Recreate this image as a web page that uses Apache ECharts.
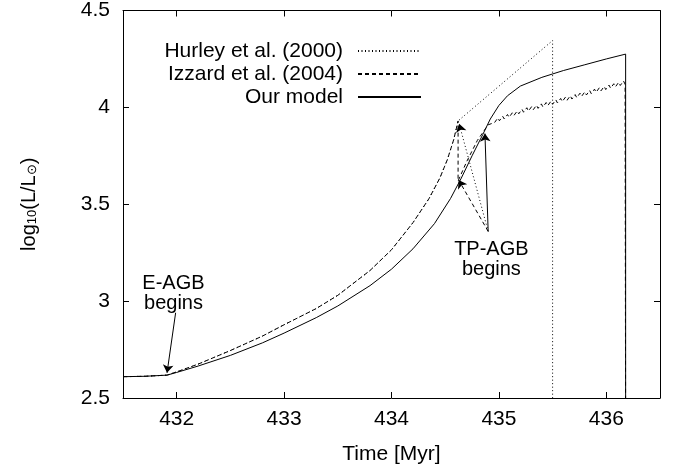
<!DOCTYPE html>
<html>
<head>
<meta charset="utf-8">
<script src="https://cdn.jsdelivr.net/npm/echarts@6/dist/echarts.min.js"></script>
<style>
  html, body { margin: 0; padding: 0; background: #fff; }
  #chart { width: 676px; height: 474px; }
</style>
</head>
<body>
<div id="chart"></div>
<script>
var chart = echarts.init(document.getElementById('chart'));
var font = 'Liberation Sans, Arial, Helvetica, sans-serif';

// 曲线数据 (time Myr, log L)
// 早期 E-AGB 段: Hurley 和 Izzard 重合
var commonCurve = [[431.5, 2.61], [431.7, 2.612], [431.91, 2.618], [432.0, 2.635], [432.2, 2.675],
  [432.5, 2.745], [432.8, 2.82], [433.0, 2.878], [433.3, 2.962], [433.5, 3.03], [433.8, 3.158],
  [434.0, 3.265], [434.2, 3.405], [434.35, 3.53], [434.45, 3.635], [434.52, 3.73], [434.58, 3.835],
  [434.62, 3.93]];
var hurleyTail = [[435.5, 4.345], [435.5, 2.3]];
var izzardTail = [[434.62, 3.62], [434.7, 3.72], [434.8, 3.83], [434.9, 3.91],
  [434.960, 3.922], [434.990, 3.945], [435.005, 3.931], [435.035, 3.954], [435.050, 3.940], [435.080, 3.963],
  [435.095, 3.949], [435.125, 3.972], [435.140, 3.958], [435.170, 3.981], [435.185, 3.967], [435.215, 3.990],
  [435.230, 3.975], [435.260, 3.998], [435.275, 3.981], [435.305, 4.004], [435.320, 3.988], [435.350, 4.011],
  [435.365, 3.995], [435.395, 4.018], [435.410, 4.002], [435.440, 4.025], [435.455, 4.009], [435.485, 4.032],
  [435.500, 4.016], [435.530, 4.039], [435.545, 4.023], [435.575, 4.046], [435.590, 4.030], [435.620, 4.053],
  [435.635, 4.037], [435.665, 4.060], [435.680, 4.043], [435.710, 4.066], [435.725, 4.050], [435.755, 4.073],
  [435.770, 4.057], [435.800, 4.080], [435.815, 4.064], [435.845, 4.087], [435.860, 4.071], [435.890, 4.094],
  [435.905, 4.078], [435.935, 4.101], [435.950, 4.085], [435.980, 4.108], [435.995, 4.092], [436.025, 4.115],
  [436.040, 4.099], [436.070, 4.122], [436.085, 4.106], [436.115, 4.129], [436.130, 4.113], [436.160, 4.136],
  [436.175, 4.120], [436.18, 2.3]];
var ourModel = [[431.5, 2.61], [431.7, 2.612], [431.91, 2.618], [432.0, 2.632], [432.2, 2.665],
  [432.5, 2.72], [432.8, 2.785], [433.0, 2.835], [433.3, 2.915], [433.5, 2.975], [433.8, 3.08],
  [434.0, 3.165], [434.2, 3.27], [434.4, 3.4], [434.55, 3.53], [434.65, 3.635], [434.75, 3.75],
  [434.85, 3.86], [434.92, 3.94], [435.0, 4.01], [435.08, 4.06], [435.2, 4.11], [435.4, 4.155],
  [435.6, 4.19], [435.8, 4.22], [436.0, 4.25], [436.18, 4.275], [436.18, 2.3]];

// 箭头 [起点, 终点]
var arrowSolid = [[[431.99, 2.94], [431.91, 2.63]], [[434.90, 3.36], [434.87, 3.865]]];
var arrowDashed = [[[434.90, 3.36], [434.625, 3.625]]];
var arrowDotted = [[[434.90, 3.36], [434.63, 3.915]]];

// 注释文字
var noteText = ['E-AGB\nbegins', 'TP-AGB\nbegins'];
var notePos = [[431.97, 3.04], [434.93, 3.215]];

var xTicks = [432, 433, 434, 435, 436];
var yTicks = [2.5, 3, 3.5, 4, 4.5];

function arrowItems(list, type) {
	return list.map(function(c) {
		return { coords: c, lineStyle: { type: type } };
	});
}

var axisBase = {
	type : 'value',
	axisLine : { show : true, lineStyle : { color : '#000', width : 1 } },
	axisTick : { show : true, inside : true, length : 6, lineStyle : { color : '#000' } },
	splitLine : { show : false }
};

chart.setOption({
	animation : false,
	backgroundColor : '#fff',
	color : ['#000', '#000', '#000'],
	textStyle : { fontFamily : font },
	grid : { left : 123, right : 16, top : 10, bottom : 76 },
	legend : {
		data : ['Hurley et al. (2000)', 'Izzard et al. (2004)', 'Our model'],
		orient : 'vertical',
		left : 138,
		top : 35,
		align : 'right',
		itemWidth : 63,
		itemHeight : 12,
		itemGap : 1,
		itemStyle : { opacity : 0 },
		textStyle : { fontSize : 21, lineHeight : 22, color : '#000', fontFamily : font, width : 200, align : 'right', padding : [0, 10, 0, 0] }
	},
	xAxis : [
		echarts.util.merge({
			min : 431.5, max : 436.5,
			axisTick : { customValues : xTicks },
			axisLabel : {
				customValues : xTicks,
				fontSize : 21, color : '#000', margin : 11, fontFamily : font
			},
			name : 'Time [Myr]', nameLocation : 'middle', nameGap : 46,
			nameTextStyle : { fontSize : 21, color : '#000', fontFamily : font }
		}, axisBase, true),
		echarts.util.merge({
			position : 'top', min : 431.5, max : 436.5,
			axisTick : { customValues : xTicks },
			axisLabel : { show : false }
		}, axisBase, true)
	],
	yAxis : [
		echarts.util.merge({
			min : 2.5, max : 4.5,
			axisTick : { customValues : yTicks },
			axisLabel : {
				customValues : yTicks,
				fontSize : 21, color : '#000', margin : 13, fontFamily : font
			},
			name : '{n|log}{s|10}{n|(L/L}{s|\u2299}{n|)}',
			nameLocation : 'middle', nameGap : 84, nameRotate : 90,
			nameTextStyle : {
				color : '#000', fontFamily : font,
				rich : {
					n : { fontSize : 20, color : '#000', fontFamily : font, lineHeight : 26, verticalAlign : 'bottom' },
					s : { fontSize : 13, color : '#000', fontFamily : font, lineHeight : 15, verticalAlign : 'bottom' }
				}
			}
		}, axisBase, true),
		echarts.util.merge({
			position : 'right', min : 2.5, max : 4.5,
			axisTick : { customValues : yTicks },
			axisLabel : { show : false }
		}, axisBase, true)
	],
	series : [ {
		name : 'Hurley et al. (2000)',
		type : 'line',
		symbol : 'none',
		lineStyle : { color : '#000', width : 1, type : [1, 2.5] },
		data : commonCurve.concat(hurleyTail)
	}, {
		name : 'Izzard et al. (2004)',
		type : 'line',
		symbol : 'none',
		lineStyle : { color : '#000', width : 1, type : [4, 3] },
		data : commonCurve.concat(izzardTail)
	}, {
		name : 'Our model',
		type : 'line',
		symbol : 'none',
		lineStyle : { color : '#000', width : 1, type : 'solid' },
		data : ourModel
	}, {
		name : 'arrows',
		type : 'lines',
		coordinateSystem : 'cartesian2d',
		symbol : ['none', 'arrow'],
		symbolSize : 8,
		lineStyle : { color : '#000', width : 1, opacity : 1 },
		data : arrowItems(arrowSolid, 'solid').concat(arrowItems(arrowDashed, [4, 3]), arrowItems(arrowDotted, [1, 2.5]))
	}, {
		name : 'notes',
		type : 'scatter',
		symbolSize : 0,
		silent : true,
		itemStyle : { color : '#000', opacity : 1 },
		label : {
			show : true,
			position : 'inside',
			fontSize : 20,
			lineHeight : 20,
			color : '#000',
			opacity : 1,
			textBorderWidth : 0,
			fontFamily : font,
			formatter : function(p) { return noteText[p.dataIndex]; }
		},
		data : notePos
	} ]
});
</script>
</body>
</html>
